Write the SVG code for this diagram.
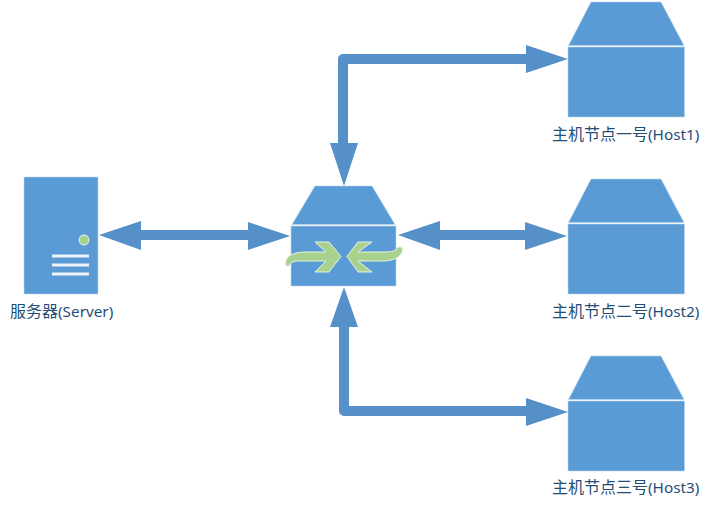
<svg xmlns="http://www.w3.org/2000/svg" width="710" height="508" viewBox="0 0 710 508">
<style>
.b{fill:#5b9bd5;stroke:#b8d3ed;stroke-width:.6}
.c{fill:none;stroke:#5590c8;stroke-width:10;stroke-linejoin:round}
.h{fill:#5590c8}
.g{fill:#a9d18e;stroke:#e8f2e0;stroke-width:1}
.w{stroke:#eef4fb;stroke-width:3}
text{font-family:"Noto Sans","Noto Sans CJK SC",sans-serif;font-size:15.300px;fill:#1f4e79}
.z{font-family:"Noto Sans CJK SC",sans-serif;font-size:16px}
</style>
<defs>
<g id="host">
<polygon class="b" points="591,2 661,2 684,45.500 568.500,45.500"/>
<rect class="b" x="568" y="47" width="116.500" height="70"/>
</g>
</defs>
<g id="connectors">
<path class="c" d="M526,59H343V145"/>
<polygon class="h" points="568,59 526,45 526,73"/>
<polygon class="h" points="344,186 330,143 358,143"/>
<path class="c" d="M526,411H344V325"/>
<polygon class="h" points="568,412 526,398 526,426"/>
<polygon class="h" points="344,287 330,327 358,327"/>
<path class="c" d="M140,235H250"/>
<polygon class="h" points="99,235 141,221 141,250"/>
<polygon class="h" points="290,236 248,222 248,250"/>
<path class="c" d="M438,235H527"/>
<polygon class="h" points="398,235 440,221 440,250"/>
<polygon class="h" points="567,236 525,222 525,250"/>
</g>
<g id="server">
<rect class="b" x="24" y="177" width="74" height="117"/>
<circle cx="84" cy="240" r="5" fill="#a9d18e" stroke="#eef4fb"/>
<path class="w" d="M52,256H89M52,265H89M52,274H89"/>
<text x="10" y="317"><tspan class="z">服务器</tspan>(Server)</text>
</g>
<g id="switch">
<polygon class="b" points="315,186 372,186 395,224.500 292,224.500"/>
<rect class="b" x="291" y="226" width="105" height="60"/>
<path class="g" d="M286,266C284,256 293,252 306,252H326L315,242H329L341,256.500L329,272H315L326,261H306C298,261 291,260 289,266Z"/>
<path class="g" d="M402,247C404,256 395,261 382,261H358L372,272H358L347,256.500L358,242H372L358,252H384C392,252 396,251 398,247Z"/>
</g>
<g id="host1">
<use href="#host"/>
<text x="552" y="140"><tspan class="z">主机节点一号</tspan>(Host1)</text>
</g>
<g id="host2" transform="translate(0,177)">
<use href="#host"/>
<text x="552" y="140"><tspan class="z">主机节点二号</tspan>(Host2)</text>
</g>
<g id="host3" transform="translate(0,354)">
<use href="#host"/>
<text x="552" y="139"><tspan class="z">主机节点三号</tspan>(Host3)</text>
</g>
</svg>
